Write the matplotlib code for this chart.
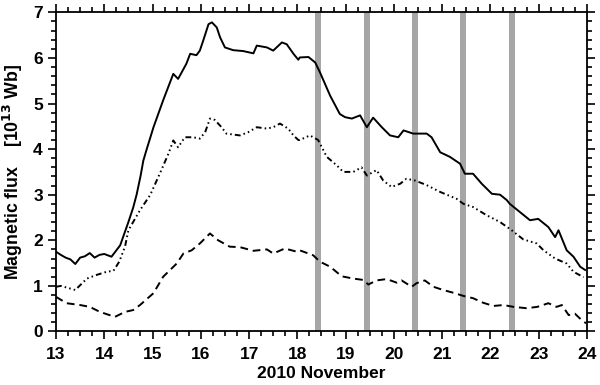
import numpy as np
import matplotlib
matplotlib.use('Agg')
import matplotlib.pyplot as plt
from matplotlib.ticker import MultipleLocator

matplotlib.rcParams['font.family'] = 'Liberation Sans'
matplotlib.rcParams['font.weight'] = 'bold'

# total flux (solid)
t_total = [13.0, 13.1, 13.2, 13.3, 13.4, 13.5, 13.6, 13.7, 13.8, 13.9, 14.0, 14.15,
           14.33, 14.5, 14.6, 14.67, 14.75, 14.81, 14.88, 15.02, 15.22, 15.43, 15.53, 15.7,
           15.78, 15.91, 15.98, 16.05, 16.16, 16.23, 16.33, 16.4, 16.5, 16.67, 16.88, 17.09,
           17.16, 17.37, 17.5, 17.68, 17.78, 17.92, 18.02, 18.05, 18.23, 18.37, 18.47, 18.68,
           18.88, 18.99, 19.13, 19.3, 19.44, 19.57, 19.75, 19.92, 20.09, 20.2, 20.4, 20.68,
           20.78, 20.96, 21.16, 21.37, 21.47, 21.64, 21.82, 22.03, 22.2, 22.34, 22.4, 22.61,
           22.82, 22.99, 23.2, 23.34, 23.41, 23.58, 23.72, 23.86, 23.96]
f_total = [1.75, 1.68, 1.62, 1.58, 1.48, 1.62, 1.65, 1.72, 1.62, 1.68, 1.70, 1.64,
           1.89, 2.40, 2.72, 3.00, 3.40, 3.75, 4.00, 4.48, 5.07, 5.65, 5.54, 5.87,
           6.09, 6.06, 6.16, 6.38, 6.74, 6.78, 6.67, 6.45, 6.23, 6.17, 6.15, 6.10,
           6.27, 6.23, 6.16, 6.34, 6.30, 6.09, 5.96, 6.01, 6.02, 5.90, 5.68, 5.17,
           4.77, 4.70, 4.67, 4.74, 4.48, 4.69, 4.48, 4.30, 4.26, 4.41, 4.34, 4.34,
           4.26, 3.93, 3.83, 3.68, 3.46, 3.46, 3.24, 3.02, 3.00, 2.88, 2.80, 2.62,
           2.44, 2.47, 2.29, 2.07, 2.22, 1.78, 1.64, 1.42, 1.35]

# dash-dot-dot-dot curve
t_mid = [13.0, 13.1, 13.4, 13.64, 13.84, 14.05, 14.19, 14.31, 14.43, 14.5, 14.74, 14.95,
         15.15, 15.33, 15.43, 15.53, 15.67, 15.84, 15.98, 16.09, 16.19, 16.29, 16.43, 16.53,
         16.81, 16.98, 17.16, 17.37, 17.5, 17.64, 17.81, 17.92, 18.02, 18.05, 18.26, 18.43,
         18.61, 18.82, 18.95, 19.16, 19.33, 19.44, 19.64, 19.78, 19.95, 20.13, 20.26, 20.44,
         20.68, 20.96, 21.3, 21.44, 21.64, 21.92, 22.2, 22.44, 22.68, 22.96, 23.1, 23.34,
         23.58, 23.72, 23.93]
f_mid = [0.98, 1.0, 0.91, 1.16, 1.24, 1.31, 1.33, 1.53, 1.86, 2.22, 2.66, 2.99,
         3.46, 3.90, 4.19, 4.04, 4.26, 4.26, 4.23, 4.37, 4.67, 4.64, 4.48, 4.34,
         4.30, 4.37, 4.48, 4.45, 4.48, 4.56, 4.45, 4.30, 4.20, 4.20, 4.30, 4.20,
         3.83, 3.64, 3.50, 3.50, 3.60, 3.42, 3.54, 3.31, 3.17, 3.24, 3.35, 3.31,
         3.21, 3.06, 2.91, 2.80, 2.73, 2.55, 2.40, 2.22, 2.02, 1.93, 1.78, 1.60,
         1.49, 1.31, 1.19]

# dashed curve
t_low = [13.0, 13.22, 13.5, 13.7, 13.91, 14.22, 14.43, 14.6, 14.74, 15.02, 15.22, 15.5,
         15.64, 15.81, 15.98, 16.19, 16.36, 16.6, 16.81, 17.09, 17.37, 17.5, 17.74, 17.99,
         18.05, 18.33, 18.47, 18.68, 18.92, 19.16, 19.37, 19.47, 19.64, 19.85, 20.06, 20.16,
         20.37, 20.47, 20.64, 20.82, 21.02, 21.23, 21.44, 21.64, 21.85, 22.06, 22.27, 22.48,
         22.75, 22.97, 23.2, 23.37, 23.48, 23.62, 23.75, 23.89, 23.98]
f_low = [0.76, 0.62, 0.58, 0.54, 0.43, 0.32, 0.43, 0.47, 0.58, 0.84, 1.20, 1.49,
         1.71, 1.78, 1.93, 2.15, 2.00, 1.86, 1.85, 1.77, 1.80, 1.71, 1.82, 1.75,
         1.78, 1.67, 1.53, 1.42, 1.21, 1.16, 1.13, 1.03, 1.12, 1.15, 1.07, 1.12,
         0.98, 1.06, 1.12, 0.98, 0.91, 0.85, 0.78, 0.73, 0.63, 0.56, 0.58, 0.54,
         0.51, 0.54, 0.62, 0.54, 0.58, 0.36, 0.39, 0.25, 0.18]

# shaded intervals (day of November)
band_start = [18.375, 19.375, 20.375, 21.375, 22.375]
band_width = 0.125

fig = plt.figure(figsize=(6.0, 3.85), dpi=100)
ax = fig.add_axes([0.0933, 0.139, 0.885, 0.829])

for b in band_start:
    ax.axvspan(b, b + band_width, color='#a6a6a6', lw=0, zorder=1)

ax.plot(t_total, f_total, c='k', lw=1.4, ls='-', zorder=3)
ax.plot(t_mid, f_mid, c='k', lw=1.4, dashes=(3, 1.6, 0.8, 1.6, 0.8, 1.6, 0.8, 1.6), zorder=3)
ax.plot(t_low, f_low, c='k', lw=1.4, dashes=(4, 2.5), zorder=3)

ax.set_xlim(13, 24)
ax.set_ylim(0, 7)
ax.xaxis.set_major_locator(MultipleLocator(1))
ax.xaxis.set_minor_locator(MultipleLocator(0.25))
ax.yaxis.set_major_locator(MultipleLocator(1))
ax.yaxis.set_minor_locator(MultipleLocator(0.2))
ax.tick_params(which='both', direction='out', top=True, right=True, width=1.2, labelsize=12.5)
ax.tick_params(axis='x', pad=5)
ax.tick_params(which='major', length=6)
ax.tick_params(which='minor', length=3.5)
for s in ax.spines.values():
    s.set_linewidth(1.3)

ax.set_xlabel('2010 November', fontsize=12.5, fontweight='bold', labelpad=3)
ax.set_ylabel('Magnetic flux    [10$^{\\mathbf{13}}$ Wb]', fontsize=12.8, fontweight='bold', labelpad=6)

fig.savefig('out.png', dpi=100)
